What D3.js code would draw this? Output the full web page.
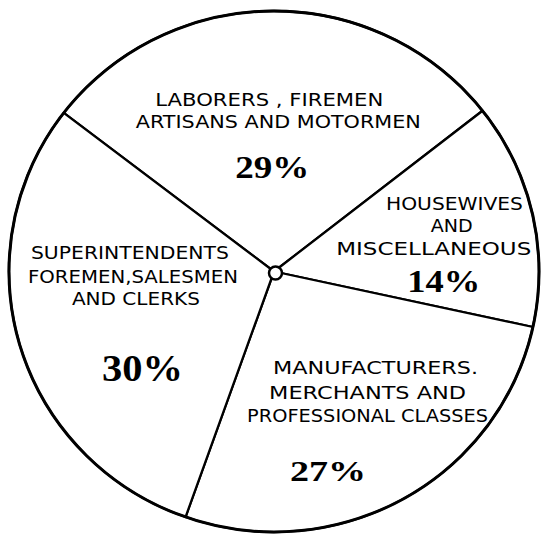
<!DOCTYPE html>
<html>
<head>
<meta charset="utf-8">
<script src="https://cdn.jsdelivr.net/npm/d3@7/dist/d3.min.js"></script>
<style>
  html, body { margin: 0; padding: 0; background: #fff; }
  svg { display: block; }
</style>
</head>
<body>
<div id="chart"></div>
<script>
// data
const categories = [
  ['LABORERS , FIREMEN', 'ARTISANS AND MOTORMEN'],
  ['HOUSEWIVES', 'AND', 'MISCELLANEOUS'],
  ['MANUFACTURERS.', 'MERCHANTS AND', 'PROFESSIONAL CLASSES'],
  ['SUPERINTENDENTS', 'FOREMEN,SALESMEN', 'AND CLERKS']
];
const values = [29, 14, 27, 30];
const pctLabels = values.map(v => v + '%');

// label placement: radius of anchor from centre, then per-line offsets [dx, dy, width]
const labelLayout = [
  { r: 135, lines: [[-4, -30.5, 228], [5, -8.5, 285]], pct: [-1, 41.5, 74, 31] },
  { r: 168, lines: [[16.7, -24, 137], [14, -2, 42], [-4, 21, 195]], pct: [6, 58, 73, 31] },
  { r: 176, lines: [[16, -51, 205], [8, -26, 197], [8, -3, 241]], pct: [-31.6, 56, 76, 30] },
  { r: 144, lines: [[-6, -53, 198], [-3, -29, 210], [0, -7, 128]], pct: [6.6, 68.6, 81, 38] }
];

const width = 541;
const height = 534;
const cx = 274;
const cy = 271.5;
const rx = 265;
const ry = 260.5;
const startDeg = -52.5;

const svg = d3.select('#chart').append('svg')
  .attr('width', width)
  .attr('height', height);

const pie = d3.pie()
  .sort(null)
  .startAngle(startDeg * Math.PI / 180)
  .endAngle(startDeg * Math.PI / 180 + 2 * Math.PI);

const arcs = pie(values);

const arc = d3.arc().innerRadius(0).outerRadius(rx);

const g = svg.append('g')
  .attr('transform', `translate(${cx},${cy}) scale(1,${ry / rx})`);

g.selectAll('path.slice')
  .data(arcs)
  .enter().append('path')
  .attr('class', 'slice')
  .attr('d', arc)
  .attr('fill', '#fff')
  .attr('stroke', '#000')
  .attr('stroke-width', 2.3)
  .attr('stroke-linejoin', 'round');

// outer rim, heavier than the spokes
g.append('circle')
  .attr('r', rx)
  .attr('fill', 'none')
  .attr('stroke', '#000')
  .attr('stroke-width', 3);

// little ring at the hub
svg.append('circle')
  .attr('cx', cx + 1.5)
  .attr('cy', cy + 1.5)
  .attr('r', 6.5)
  .attr('fill', '#fff')
  .attr('stroke', '#000')
  .attr('stroke-width', 2.5);

const labels = svg.append('g').attr('class', 'labels');

arcs.forEach((d, i) => {
  const lay = labelLayout[i];
  const [ax, ay] = d3.arc().innerRadius(lay.r).outerRadius(lay.r).centroid(d);
  const x0 = cx + ax;
  const y0 = cy + ay;

  categories[i].forEach((line, j) => {
    const [dx, dy, w] = lay.lines[j];
    labels.append('text')
      .attr('x', x0 + dx)
      .attr('y', y0 + dy)
      .attr('text-anchor', 'middle')
      .attr('textLength', w)
      .attr('lengthAdjust', 'spacingAndGlyphs')
      .style('font-family', '"DejaVu Sans", sans-serif')
      .style('font-size', '18px')
      .style('fill', '#000')
      .text(line);
  });

  const [pdx, pdy, pw, ps] = lay.pct;
  labels.append('text')
    .attr('x', x0 + pdx)
    .attr('y', y0 + pdy)
    .attr('text-anchor', 'middle')
    .attr('textLength', pw)
    .attr('lengthAdjust', 'spacingAndGlyphs')
    .style('font-family', '"Liberation Serif", serif')
    .style('font-weight', 'bold')
    .style('font-size', ps + 'px')
    .style('fill', '#000')
    .text(pctLabels[i]);
});
</script>
</body>
</html>
